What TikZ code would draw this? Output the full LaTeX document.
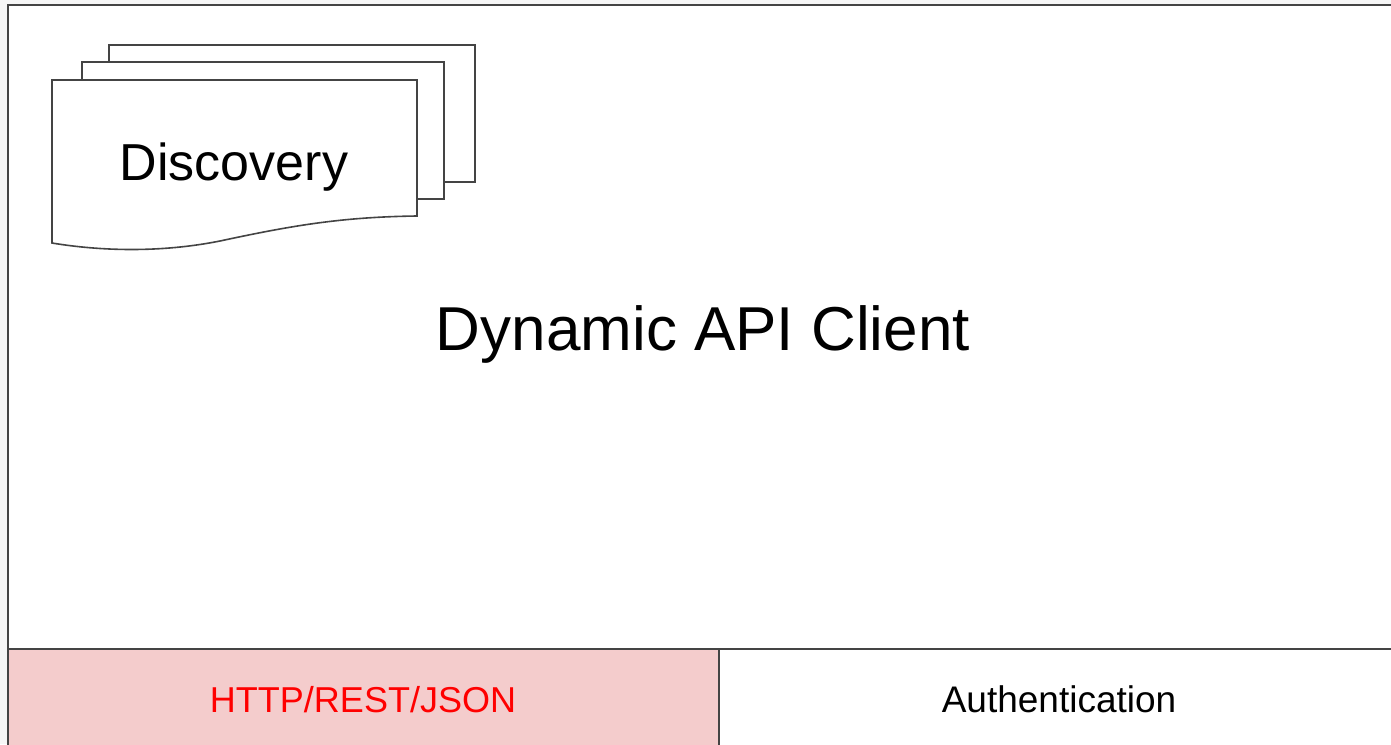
\documentclass[tikz,border=0pt]{standalone}
\usepackage{fontspec}
\setmainfont{Liberation Sans}
\definecolor{edge}{HTML}{444444}
\definecolor{cellpink}{HTML}{F4CCCC}
\definecolor{linkred}{HTML}{FF0000}
\definecolor{pagebg}{HTML}{F6F6F6}
\tikzset{
  frameline/.style={draw=edge, line width=2.4pt},
  sheet/.style={draw=edge, line width=1.6pt, fill=white, line join=miter},
  label/.style={inner sep=0pt, anchor=base},
}
\begin{document}
\begin{tikzpicture}[x=1pt, y=-1pt]
  % canvas
  \fill[pagebg] (0,0) rectangle (1391,744);
  \useasboundingbox (0,0) rectangle (1391,744);
  \begin{scope}
    \clip (0,0) rectangle (1391,744);
    % outer client frame
    \path[frameline, fill=white] (8,5) rectangle (1400,760);
    % bottom row: transport and authentication cells
    \path[frameline, fill=cellpink] (8,649) rectangle (719,760);
    \path[frameline] (719,649) rectangle (1400,760);
  \end{scope}

  % stacked discovery documents
  \path[sheet] (109,45) -- (475,45) -- (475,182) -- (444,182) -- (444,62) -- (109,62) -- cycle;
  \path[sheet] (82,62) -- (444,62) -- (444,199) -- (417,199) -- (417,80) -- (82,80) -- cycle;
  \path[sheet] (52,80) -- (417,80) -- (417,216)
    .. controls (340,217) and (290,226) .. (220,241)
    .. controls (160,253) and (100,251) .. (52,243) -- cycle;

  % labels
  \node[label] (discovery) at (234,180) {\fontsize{52}{60}\selectfont Discovery};
  \node[label] (client) at (703,350) {\fontsize{62}{70}\selectfont Dynamic API Client};
  \node[label, text=linkred] (transport) at (363,712) {\fontsize{36}{40}\selectfont HTTP/REST/JSON};
  \node[label] (auth) at (1059,712) {\fontsize{37}{40}\selectfont Authentication};
\end{tikzpicture}
\end{document}
